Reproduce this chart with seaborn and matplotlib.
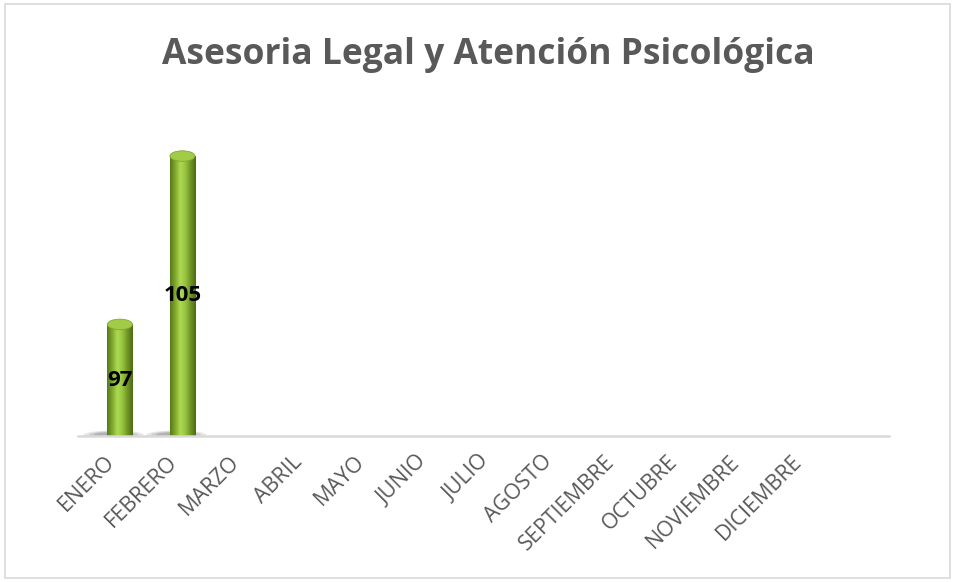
import numpy as np
import pandas as pd
import matplotlib.pyplot as plt
import seaborn as sns
from matplotlib.patches import Ellipse, Rectangle
from matplotlib.colors import LinearSegmentedColormap
from matplotlib.transforms import ScaledTranslation

meses = ["ENERO", "FEBRERO", "MARZO", "ABRIL", "MAYO", "JUNIO", "JULIO",
         "AGOSTO", "SEPTIEMBRE", "OCTUBRE", "NOVIEMBRE", "DICIEMBRE"]
meses_con_dato = ["ENERO", "FEBRERO"]
atenciones = [97, 105]

df = pd.DataFrame({"mes": meses_con_dato, "total": atenciones})

sns.set_theme(style="white")
plt.rcParams['font.family'] = ['Open Sans', 'DejaVu Sans']

fig = plt.figure(figsize=(9.57, 5.82), dpi=100)
ax = fig.add_axes([0.0815, 0.251, 0.847, 0.517])

sns.barplot(data=df, x="mes", y="total", order=meses, width=0.4,
            color="#8cb33a", ax=ax)

ax.set_xlim(-0.67, 12.29)
ax.set_ylim(91.7, 106)
ybot = ax.get_ylim()[0]

# cylinder look: horizontal gradient clipped to each bar
verde = LinearSegmentedColormap.from_list(
    "verde", ["#557a18", "#80a82e", "#addb52", "#97c23f", "#6f9424", "#4c6c14"])
grad = np.linspace(0, 1, 100).reshape(1, -1)
for p, v in zip(ax.patches, atenciones):
    x0, w, h = p.get_x(), p.get_width(), p.get_height()
    cx = x0 + w / 2
    # soft shadow at the base, leaning left
    for k, a in enumerate([0.12, 0.15, 0.2]):
        ax.add_patch(Ellipse((cx - w * 0.25, ybot + 0.05), w * (2.4 - 0.4 * k),
                             0.42 - 0.08 * k, color="#404040", alpha=a,
                             lw=0, zorder=1))
    img = ax.imshow(grad, extent=(x0, x0 + w, ybot, h), aspect="auto",
                    cmap=verde, zorder=2)
    img.set_clip_path(p)
    p.set_facecolor("none")
    p.set_edgecolor("none")
    ax.add_patch(Ellipse((cx, h), w, 0.5, facecolor="#a2cc48",
                         edgecolor="#80a82e", lw=0.6, zorder=3))
    ax.text(cx, (ybot + h) / 2, str(v), ha="center", va="center",
            fontsize=16, fontweight="bold", color="black", zorder=4)

ax.set_xlim(-0.67, 12.29)
ax.set_ylim(91.7, 106)

for s in ["left", "top", "right"]:
    ax.spines[s].set_visible(False)
ax.spines["bottom"].set_color("#d9d9d9")
ax.spines["bottom"].set_linewidth(1.8)
ax.spines["bottom"].set_zorder(5)
ax.set_yticks([])
ax.set_xlabel("")
ax.set_ylabel("")
ax.tick_params(axis="x", length=0, pad=11)
ax.set_xticks(range(len(meses)))
ax.set_xticklabels(meses, rotation=45, ha="right", rotation_mode="anchor",
                   color="#595959", fontsize=15.5)
off = ScaledTranslation(-16 / 100, 0, fig.dpi_scale_trans)
for lbl in ax.get_xticklabels():
    lbl.set_transform(lbl.get_transform() + off)

fig.text(0.51, 0.905, "Asesoria Legal y Atención Psicológica", ha="center",
         va="center", fontsize=25.5, fontweight="bold", color="#595959")

fig.patches.append(Rectangle((0.005, 0.007), 0.988, 0.986, fill=False,
                             edgecolor="#d9d9d9", lw=1.2,
                             transform=fig.transFigure, figure=fig))

fig.savefig("out.png", dpi=100)
